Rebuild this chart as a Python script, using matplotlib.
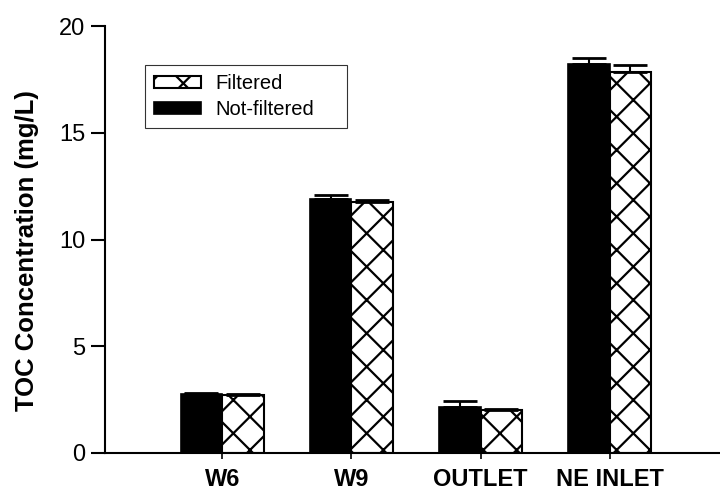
import numpy as np
import matplotlib.pyplot as plt

sites = ["W6", "W9", "OUTLET", "NE INLET"]
not_filtered = [2.75, 11.9, 2.15, 18.2]
not_filtered_err = [0.08, 0.18, 0.3, 0.3]
filtered = [2.72, 11.76, 2.0, 17.86]
filtered_err = [0.05, 0.1, 0.05, 0.32]


def main():
    plt.rcParams['font.family'] = ['Liberation Sans', 'DejaVu Sans']
    plt.rcParams['hatch.linewidth'] = 1.6

    fig = plt.figure(figsize=(7.2, 4.91), dpi=100)
    ax = fig.add_axes([0.1458, 0.0774, 0.8542, 0.8696])

    x = np.arange(len(sites))
    w = 0.32
    ax.bar(x - w / 2, not_filtered, w, color='black', edgecolor='black',
           linewidth=1.2, label='Not-filtered')
    ax.bar(x + w / 2, filtered, w, color='white', edgecolor='black',
           linewidth=1.5, hatch='x', label='Filtered')
    ekw = dict(fmt='none', ecolor='black', elinewidth=1.5, capsize=12, capthick=2)
    ax.errorbar(x - w / 2, not_filtered, yerr=[np.zeros(4), not_filtered_err], **ekw)
    ax.errorbar(x + w / 2, filtered, yerr=[np.zeros(4), filtered_err], **ekw)

    ax.set_xlim(-0.907, 3.853)
    ax.set_ylim(0, 20)
    ax.set_yticks([0, 5, 10, 15, 20])
    ax.set_xticks(x)
    ax.set_xticklabels(sites, fontsize=17, fontweight='bold')
    ax.tick_params(axis='y', labelsize=17, length=10, width=1.5, pad=4)
    ax.tick_params(axis='x', length=4, width=1.2, pad=7)
    ax.set_ylabel("TOC Concentration (mg/L)", fontsize=18.5, fontweight='bold')
    ax.yaxis.set_label_coords(-0.107, 0.473)

    ax.spines['top'].set_visible(False)
    ax.spines['right'].set_visible(False)
    ax.spines['left'].set_linewidth(1.5)
    ax.spines['bottom'].set_linewidth(1.5)

    handles, labels = ax.get_legend_handles_labels()
    leg = ax.legend(handles[::-1], labels[::-1], loc='upper left',
                    bbox_to_anchor=(145 / 720, 1 - 128 / 491, 202 / 720, 63 / 491),
                    bbox_transform=fig.transFigure, mode='expand', fontsize=14.5,
                    fancybox=False, frameon=True, handlelength=2.33,
                    handleheight=0.6, borderpad=0.45, labelspacing=0.35,
                    handletextpad=0.7, borderaxespad=0)
    leg.get_frame().set_edgecolor('black')
    leg.get_frame().set_linewidth(0.8)

    fig.savefig("out.png", dpi=100)


if __name__ == "__main__":
    main()
